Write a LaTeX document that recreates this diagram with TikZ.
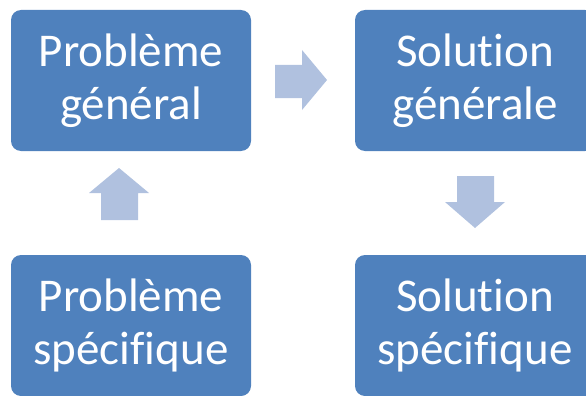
\documentclass[tikz,border=0pt]{standalone}
\usepackage{fontspec}
\setmainfont[Ligatures={NoCommon}]{Carlito}
\definecolor{boxblue}{HTML}{4F81BD}
\definecolor{arrowblue}{HTML}{B0C1DF}
\begin{document}
\begin{tikzpicture}[x=1pt,y=-1pt,
  box/.style={fill=boxblue, rounded corners=10pt, minimum width=240pt, minimum height=141pt,
    inner sep=0pt, text=white, align=center, font=\fontsize{47}{53}\selectfont},
  arrowshape/.style={fill=arrowblue}]
\useasboundingbox (0,0) rectangle (586,396);
\node[box] (pg) at (131,80.5) {Problème\\général};
\node[box] (sg) at (475,80.5) {Solution\\générale};
\node[box] (ps) at (131,325.5) {Problème\\spécifique};
\node[box] (ss) at (475,325.5) {Solution\\spécifique};
% right arrow
\fill[arrowshape] (275,65) -- (302,65) -- (302,50) -- (327,80) -- (302,110) -- (302,98) -- (275,98) -- cycle;
% down arrow
\fill[arrowshape] (457,176) -- (494,176) -- (494,202) -- (505,202) -- (475,228) -- (445,202) -- (457,202) -- cycle;
% up arrow
\fill[arrowshape] (101,220) -- (138,220) -- (138,193) -- (149,193) -- (119,168) -- (89,193) -- (101,193) -- cycle;
\end{tikzpicture}
\end{document}
